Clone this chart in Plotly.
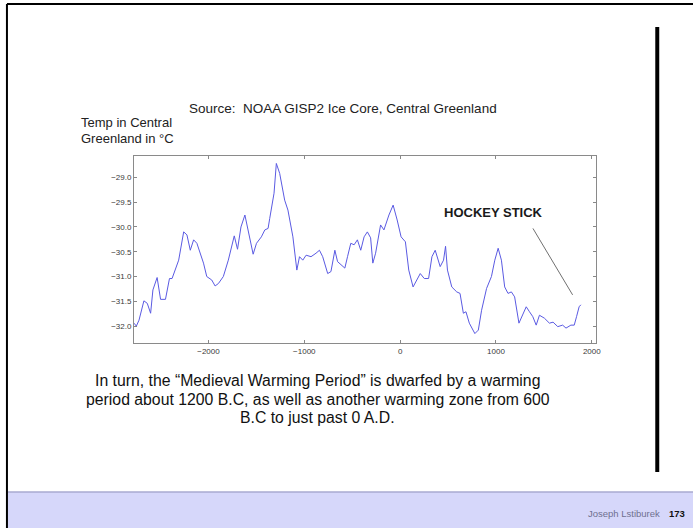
import plotly.graph_objects as go

# ---- data ----
years = [-2777, -2753, -2725, -2674, -2639, -2604, -2580, -2536, -2500, -2449,
         -2407, -2380, -2311, -2259, -2225, -2190, -2155, -2121, -2052, -2018,
         -1966, -1931, -1896, -1845, -1793, -1731, -1697, -1661, -1620, -1568,
         -1534, -1499, -1448, -1412, -1378, -1361, -1344, -1316, -1292, -1257,
         -1205, -1171, -1119, -1102, -1078, -1050, -1016, -981, -930, -878,
         -842, -808, -756, -722, -681, -653, -601, -577, -549, -515,
         -480, -446, -411, -376, -342, -308, -285, -256, -204, -169,
         -117, -73, -31, 10, 55, 90, 135, 169, 210, 252,
         297, 332, 366, 418, 453, 474, 494, 539, 591, 625,
         660, 687, 722, 780, 816, 850, 902, 953, 988, 1023,
         1057, 1091, 1126, 1161, 1195, 1240, 1282, 1316, 1350, 1385,
         1420, 1454, 1506, 1558, 1596, 1645, 1696, 1731, 1782, 1817,
         1841, 1868, 1886]
temps = [-31.94, -32.00, -31.88, -31.49, -31.54, -31.74, -31.27, -31.02, -31.46, -31.46,
         -31.04, -31.04, -30.67, -30.10, -30.16, -30.47, -30.26, -30.33, -30.73, -31.00,
         -31.07, -31.19, -31.14, -31.00, -30.67, -30.18, -30.45, -30.00, -29.76, -30.20,
         -30.55, -30.33, -30.20, -30.06, -30.03, -29.83, -29.66, -29.32, -28.72, -28.92,
         -29.46, -29.66, -30.20, -30.47, -30.87, -30.60, -30.67, -30.57, -30.60, -30.53,
         -30.47, -30.60, -30.94, -30.90, -30.47, -30.70, -30.80, -30.83, -30.60, -30.33,
         -30.36, -30.26, -30.47, -30.20, -30.10, -30.22, -30.73, -30.53, -29.96, -30.06,
         -29.76, -29.56, -29.86, -30.20, -30.30, -30.87, -31.21, -31.10, -30.94, -31.04,
         -31.04, -30.60, -30.47, -30.80, -30.67, -30.39, -30.87, -31.21, -31.31, -31.34,
         -31.74, -31.71, -31.94, -32.15, -32.08, -31.68, -31.24, -31.00, -30.67, -30.43,
         -30.67, -31.21, -31.34, -31.31, -31.41, -31.94, -31.74, -31.61, -31.71, -31.81,
         -31.98, -31.78, -31.84, -31.94, -31.92, -32.01, -31.98, -32.04, -31.98, -31.98,
         -31.81, -31.61, -31.57]
x_ticks = [-2000, -1000, 0, 1000, 2000]
y_ticks = [-32.0, -31.5, -31.0, -30.5, -30.0, -29.5, -29.0]
hockey_pointer_x = [1386, 1800]
hockey_pointer_y = [-30.03, -31.37]

title_text = "Source:\u00a0 NOAA GISP2 Ice Core, Central Greenland"
ylabel_lines = ["Temp in Central", "Greenland in \u00b0C"]
caption_lines = [
    "In turn, the \u201cMedieval Warming Period\u201d is dwarfed by a warming",
    "period about 1200 B.C, as well as another warming zone from 600",
    "B.C to just past 0 A.D.",
]
footer_name = "Joseph Lstiburek"
footer_page = "173"

W, H = 698, 528
FONT = "Liberation Sans, Arial, sans-serif"


def fx(x):
    return x / W


def fy(y):
    return 1 - y / H


fig = go.Figure()
fig.add_trace(go.Scatter(x=years, y=temps, mode="lines",
                         line=dict(color="#5a5ae2", width=1),
                         hoverinfo="skip"))
fig.add_trace(go.Scatter(x=hockey_pointer_x, y=hockey_pointer_y, mode="lines",
                         line=dict(color="#707070", width=1),
                         hoverinfo="skip"))

axis_common = dict(ticks="inside", ticklen=3, tickcolor="#888", showline=True,
                   linecolor="#8a8a8a", linewidth=1, mirror="ticks",
                   showgrid=False, zeroline=False,
                   tickfont=dict(size=8, color="#3a3a3a", family=FONT))
fig.update_xaxes(domain=[135 / W, 600 / W], range=[-2777, 2041],
                 tickvals=x_ticks, **axis_common)
fig.update_yaxes(domain=[fy(343), fy(156)], range=[-32.34, -28.57],
                 tickvals=y_ticks, tickformat=".1f", **axis_common)

shapes = [
    # footer band
    dict(type="rect", xref="paper", yref="paper", x0=fx(8), x1=1, y0=0, y1=fy(492),
         fillcolor="#d6d7fa", line=dict(width=0), layer="below"),
    dict(type="line", xref="paper", yref="paper", x0=fx(8), x1=1, y0=fy(492), y1=fy(492),
         line=dict(color="#a9aad0", width=1.5)),
    # slide frame
    dict(type="line", xref="paper", yref="paper", x0=fx(7), x1=fx(7), y0=0, y1=fy(4),
         line=dict(color="black", width=2)),
    dict(type="line", xref="paper", yref="paper", x0=fx(7), x1=1, y0=fy(4), y1=fy(4),
         line=dict(color="black", width=2)),
    # black vertical bar
    dict(type="rect", xref="paper", yref="paper", x0=fx(660), x1=fx(664), y0=fy(472), y1=fy(27),
         fillcolor="black", line=dict(width=0)),
]

annotations = [
    dict(text=title_text, x=fx(188), y=fy(108), xanchor="left", yanchor="middle",
         font=dict(size=13.5, color="#222", family=FONT)),
    dict(text=ylabel_lines[0], x=fx(80), y=fy(123), xanchor="left", yanchor="middle",
         font=dict(size=13, color="#222", family=FONT)),
    dict(text=ylabel_lines[1], x=fx(80), y=fy(138), xanchor="left", yanchor="middle",
         font=dict(size=13, color="#222", family=FONT)),
    dict(text="<b>HOCKEY STICK</b>", x=fx(497), y=fy(212), xanchor="center", yanchor="middle",
         font=dict(size=13, color="#1a1a1a", family=FONT)),
    dict(text=footer_name, x=fx(667), y=fy(513), xanchor="right", yanchor="middle",
         font=dict(size=9.5, color="#6f7090", family=FONT)),
    dict(text="<b>" + footer_page + "</b>", x=fx(672), y=fy(513), xanchor="left", yanchor="middle",
         font=dict(size=9.5, color="#111", family=FONT)),
]
for line, yc in zip(caption_lines, [380, 399, 417]):
    annotations.append(dict(text=line, x=fx(320), y=fy(yc), xanchor="center", yanchor="middle",
                            font=dict(size=15.8, color="#111", family=FONT)))
for a in annotations:
    a.update(xref="paper", yref="paper", showarrow=False)

fig.update_layout(width=W, height=H, margin=dict(l=0, r=0, t=0, b=0),
                  paper_bgcolor="white", plot_bgcolor="white", showlegend=False,
                  shapes=shapes, annotations=annotations,
                  font=dict(family=FONT))

fig.write_html("out.html",
               config={"displayModeBar": False, "responsive": False},
               post_script="document.body.style.margin='0';document.body.style.overflow='hidden';")
